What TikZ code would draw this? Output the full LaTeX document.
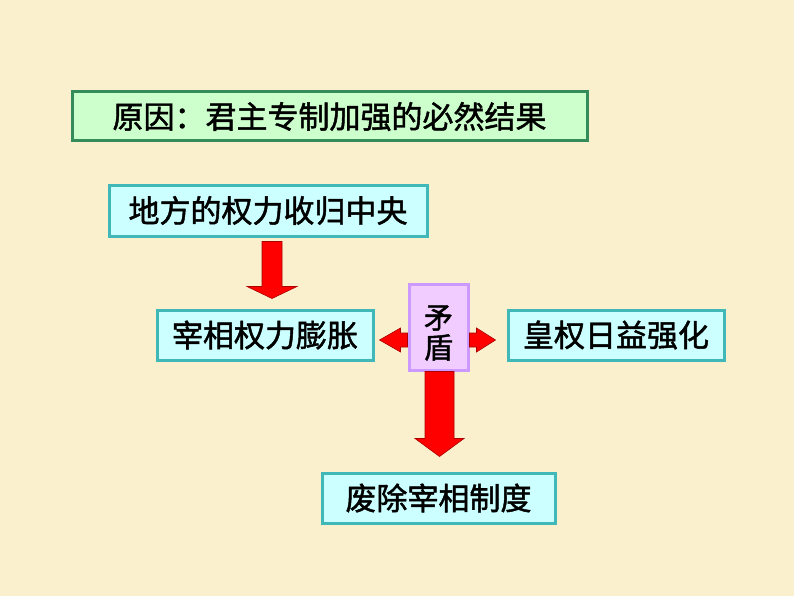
\documentclass[tikz,border=0pt]{standalone}
\usepackage{fontspec}
\setmainfont{Noto Sans CJK SC}[FakeBold=1.5]
\usetikzlibrary{calc}
\definecolor{bgc}{RGB}{250,240,205}
\definecolor{gfill}{RGB}{204,255,204}
\definecolor{gline}{RGB}{51,140,90}
\definecolor{cfill}{RGB}{204,255,255}
\definecolor{cline}{RGB}{64,184,184}
\definecolor{pfill}{RGB}{240,204,255}
\definecolor{pline}{RGB}{204,153,255}
\definecolor{rfill}{RGB}{255,0,0}
\definecolor{rline}{RGB}{170,0,0}
\tikzset{
  box/.style={draw, line width=3pt, inner sep=0pt, font=\fontsize{31}{31}\selectfont, text=black},
  greenbox/.style={box, draw=gline, fill=gfill},
  cyanbox/.style={box, draw=cline, fill=cfill},
  purplebox/.style={box, draw=pline, fill=pfill},
  redarrow/.style={fill=rfill, draw=rline, line width=0.6pt, line join=miter}
}
\begin{document}
\begin{tikzpicture}[x=1pt,y=-1pt]
\fill[bgc] (0,0) rectangle (794,596);
\useasboundingbox (0,0) rectangle (794,596);
\node[greenbox, minimum width=515pt, minimum height=49pt] (top) at (329.5,116.5) {原因：君主专制加强的必然结果};
\node[cyanbox, minimum width=318pt, minimum height=51pt] (a) at (268,210.5) {地方的权力收归中央};
\node[cyanbox, minimum width=216pt, minimum height=50pt] (b) at (265,335) {宰相权力膨胀};
\node[purplebox, minimum width=59pt, minimum height=86pt,
  label={[font=\fontsize{29}{30}\selectfont, align=center, inner sep=0pt, yshift=-6pt]center:矛\\盾}] (m) at (438.5,327) {};
\node[cyanbox, minimum width=216pt, minimum height=50pt] (c) at (616,335) {皇权日益强化};
\node[cyanbox, minimum width=233pt, minimum height=50pt] (d) at (438.5,498) {废除宰相制度};
% arrow a -> b
\draw[redarrow] ($(a.south)+(-6,4)$) -- ($(a.south)+(14,4)$) -- ($(a.south)+(14,49)$) -- ($(a.south)+(29,49)$)
  -- ($(b.north)+(7,-10)$) -- ($(a.south)+(-21,49)$) -- ($(a.south)+(-6,49)$) -- cycle;
% arrow m -> d
\draw[redarrow] ($(m.south)+(-13.5,0)$) -- ($(m.south)+(15.5,0)$) -- ($(m.south)+(15.5,67)$) -- ($(m.south)+(25.5,67)$)
  -- ($(d.north)+(1,-15)$) -- ($(m.south)+(-23.5,67)$) -- ($(m.south)+(-13.5,67)$) -- cycle;
% arrow m -> b
\draw[redarrow] ($(m.west)+(0,6)$) -- ($(m.west)+(-7,6)$) -- ($(m.west)+(-7,1)$)
  -- ($(b.east)+(5,5)$) -- ($(m.west)+(-7,25)$) -- ($(m.west)+(-7,20)$) -- ($(m.west)+(0,20)$) -- cycle;
% arrow m -> c
\draw[redarrow] ($(m.east)+(0,6)$) -- ($(m.east)+(7,6)$) -- ($(m.east)+(7,1)$)
  -- ($(c.west)+(-11,5)$) -- ($(m.east)+(7,25)$) -- ($(m.east)+(7,20)$) -- ($(m.east)+(0,20)$) -- cycle;
\end{tikzpicture}
\end{document}
